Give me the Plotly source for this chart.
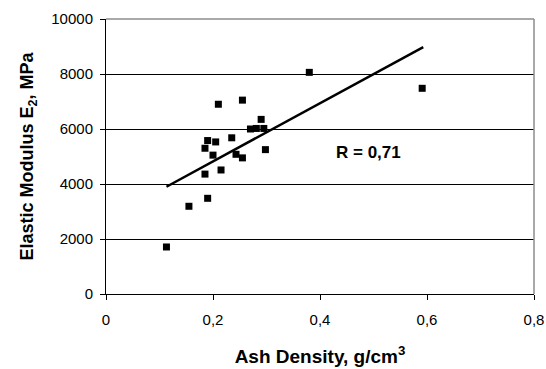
import plotly.graph_objects as go

ash_density = [0.113, 0.155, 0.185, 0.185, 0.190, 0.190, 0.200, 0.205, 0.210, 0.215,
               0.235, 0.243, 0.255, 0.255, 0.270, 0.281, 0.290, 0.295, 0.298, 0.380, 0.591]
elastic_modulus = [1710, 3190, 4360, 5300, 3480, 5580, 5050, 5530, 6900, 4510,
                   5680, 5080, 4950, 7050, 6000, 6020, 6350, 6020, 5250, 8060, 7480]

trend_x = [0.113, 0.593]
trend_y = [3900, 8980]

x_tickvals = [0, 0.2, 0.4, 0.6, 0.8]
x_ticktext = ["0", "0,2", "0,4", "0,6", "0,8"]
y_tickvals = [0, 2000, 4000, 6000, 8000, 10000]
y_ticktext = ["0", "2000", "4000", "6000", "8000", "10000"]

r_label = "R = 0,71"
r_pos = (0.49, 5130)

FONT = "Arial, Liberation Sans, sans-serif"

fig = go.Figure()
fig.add_trace(go.Scatter(x=ash_density, y=elastic_modulus, mode="markers",
                         marker=dict(symbol="square", size=7, color="black"),
                         showlegend=False, cliponaxis=False))
fig.add_trace(go.Scatter(x=trend_x, y=trend_y, mode="lines",
                         line=dict(color="black", width=2.5), showlegend=False))

fig.add_annotation(x=r_pos[0], y=r_pos[1], text="<b>" + r_label + "</b>", showarrow=False,
                   font=dict(family=FONT, size=17, color="black"))

# gray plot-area border on top and right
fig.add_shape(type="line", xref="paper", yref="paper", x0=0, x1=1, y0=1, y1=1,
              line=dict(color="#8c8c8c", width=1.5), layer="above")
fig.add_shape(type="line", xref="paper", yref="paper", x0=1, x1=1, y0=0, y1=1,
              line=dict(color="#8c8c8c", width=1.5), layer="above")

fig.update_layout(
    template="none",
    width=546, height=369,
    margin=dict(l=106, r=12, t=19, b=75),
    paper_bgcolor="white", plot_bgcolor="white",
    font=dict(family=FONT, size=14, color="black"),
    xaxis=dict(range=[0, 0.8], tickvals=x_tickvals, ticktext=x_ticktext, automargin=False,
               showgrid=False, zeroline=False, showline=True, linecolor="black", linewidth=1,
               ticks="outside", ticklen=5, tickcolor="black", ticklabelstandoff=7,
               tickfont=dict(family=FONT, size=15, color="black"),
               title=dict(text="<b>Ash Density, g/cm<sup>3</sup></b>",
                          font=dict(family=FONT, size=19, color="black"), standoff=22)),
    yaxis=dict(range=[0, 10000], tickvals=y_tickvals, ticktext=y_ticktext, automargin=False,
               showgrid=True, gridcolor="black", gridwidth=1, zeroline=False,
               showline=True, linecolor="black", linewidth=1,
               ticks="outside", ticklen=5, tickcolor="black", ticklabelstandoff=4,
               tickfont=dict(family=FONT, size=15, color="black"),
               title=dict(text="<b>Elastic Modulus E<sub>2</sub>, MPa</b>",
                          font=dict(family=FONT, size=18, color="black"), standoff=12)),
)

fig.write_html("out.html")
